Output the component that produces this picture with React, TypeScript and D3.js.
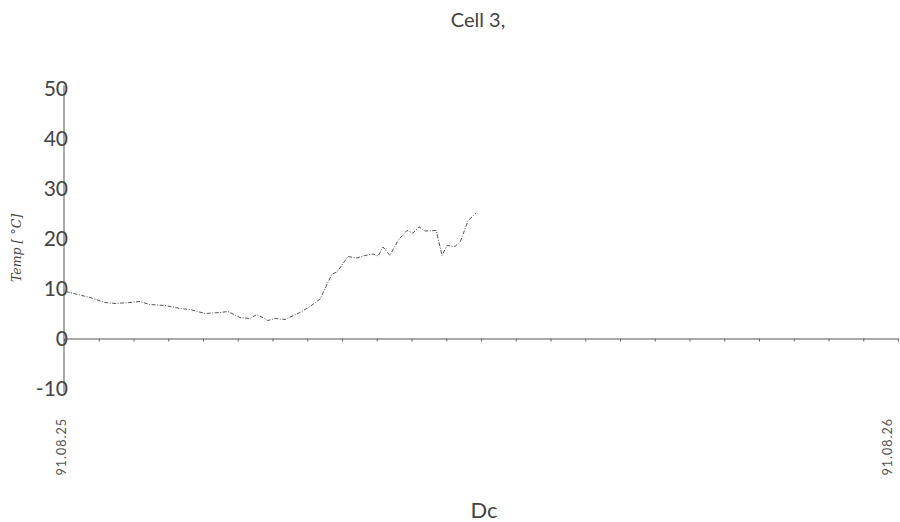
import React, { useRef, useEffect } from "react";
import * as d3 from "d3";

// hours since 91.08.25 00:00
const hours = [
  0.05, 0.75, 1.18, 1.47, 1.9, 2.19, 2.47, 2.9, 3.34, 3.63, 4.06, 4.49, 4.72,
  5.06, 5.35, 5.55, 5.87, 6.07, 6.36, 6.79, 7.08, 7.37, 7.71, 7.86, 8.17, 8.43,
  8.66, 8.89, 9.04, 9.18, 9.38, 9.61, 9.87, 10.04, 10.22, 10.39, 10.71, 10.88,
  11.02, 11.25, 11.4, 11.63, 11.86,
];
const temps = [
  9.4, 8.2, 7.2, 7.0, 7.2, 7.4, 6.8, 6.6, 6.0, 5.8, 5.0, 5.2, 5.4, 4.2, 4.0, 4.8,
  3.6, 4.0, 3.8, 5.2, 6.4, 7.9, 12.9, 13.3, 16.4, 16.1, 16.6, 16.9, 16.5, 18.3,
  16.6, 19.6, 21.6, 21.1, 22.3, 21.5, 21.6, 16.6, 18.6, 18.4, 19.3, 23.6, 25.1,
];
const yTicks = [-10, 0, 10, 20, 30, 40, 50];
const dateLabels = ["91.08.25", "91.08.26"];

const App = () => {
  const svgRef = useRef<SVGSVGElement>(null);

  useEffect(() => {
    const svg = d3.select(svgRef.current);
    svg.selectAll("*").remove();
    const width = 900;
    const height = 522;
    const font = "Lato, 'Noto Sans', sans-serif";

    const x = d3.scaleLinear().domain([0, 24]).range([64, 898]);
    const y = d3.scaleLinear().domain([-10, 50]).range([388.5, 88.5]);

    // Title
    svg
      .append("text")
      .attr("x", 478)
      .attr("y", 27)
      .attr("text-anchor", "middle")
      .attr("font-family", font)
      .attr("font-size", 20)
      .attr("fill", "#444")
      .text("Cell 3,");

    // Y axis line
    svg
      .append("line")
      .attr("x1", x(0))
      .attr("x2", x(0))
      .attr("y1", y(50) - 3)
      .attr("y2", y(-10) + 4)
      .attr("stroke", "#555")
      .attr("stroke-width", 1);

    // Y tick labels
    svg
      .append("g")
      .selectAll("text")
      .data(yTicks)
      .join("text")
      .attr("x", x(0) + 4)
      .attr("y", (d) => y(d))
      .attr("dy", "0.35em")
      .attr("text-anchor", "end")
      .attr("font-family", font)
      .attr("font-size", 21)
      .attr("fill", "#444")
      .text((d) => String(d));

    // X axis at zero
    const xAxis = svg
      .append("g")
      .attr("transform", `translate(0,${y(0)})`)
      .call(
        d3
          .axisBottom(x)
          .tickValues(d3.range(1, 25))
          .tickSize(3)
          .tickFormat(() => "")
      );
    xAxis.select(".domain").attr("stroke", "#555");
    xAxis.selectAll(".tick line").attr("stroke", "#666");

    // Date labels
    svg
      .append("g")
      .selectAll("text")
      .data(dateLabels)
      .join("text")
      .attr("transform", (d, i) => `translate(${x(i * 24) + (i ? -10 : -2)},418) rotate(-90)`)
      .attr("dy", "0.35em")
      .attr("text-anchor", "end")
      .attr("font-family", font)
      .attr("font-size", 12.5)
      .attr("letter-spacing", 1)
      .attr("fill", "#555")
      .text((d) => d);

    // Axis titles
    svg
      .append("text")
      .attr("x", 484)
      .attr("y", 518)
      .attr("text-anchor", "middle")
      .attr("font-family", font)
      .attr("font-size", 22)
      .attr("fill", "#444")
      .text("Dc");

    svg
      .append("text")
      .attr("transform", "translate(21,248) rotate(-90)")
      .attr("text-anchor", "middle")
      .attr("font-family", "'DejaVu Serif', serif")
      .attr("font-style", "italic")
      .attr("font-size", 12.5)
      .attr("fill", "#444")
      .text("Temp [ °C]");

    // Temperature line
    const line = d3
      .line<number>()
      .x((d, i) => x(hours[i]))
      .y((d) => y(d));

    svg
      .append("path")
      .datum(temps)
      .attr("d", line)
      .attr("fill", "none")
      .attr("stroke", "#555")
      .attr("stroke-width", 1)
      .attr("stroke-dasharray", "4,1.5,1,1.5");

    svg.attr("width", width).attr("height", height);
  }, []);

  return (
    <div style={{ position: "absolute", left: 0, top: 0, background: "#fff" }}>
      <svg ref={svgRef} style={{ display: "block" }}></svg>
    </div>
  );
};

export default App;
